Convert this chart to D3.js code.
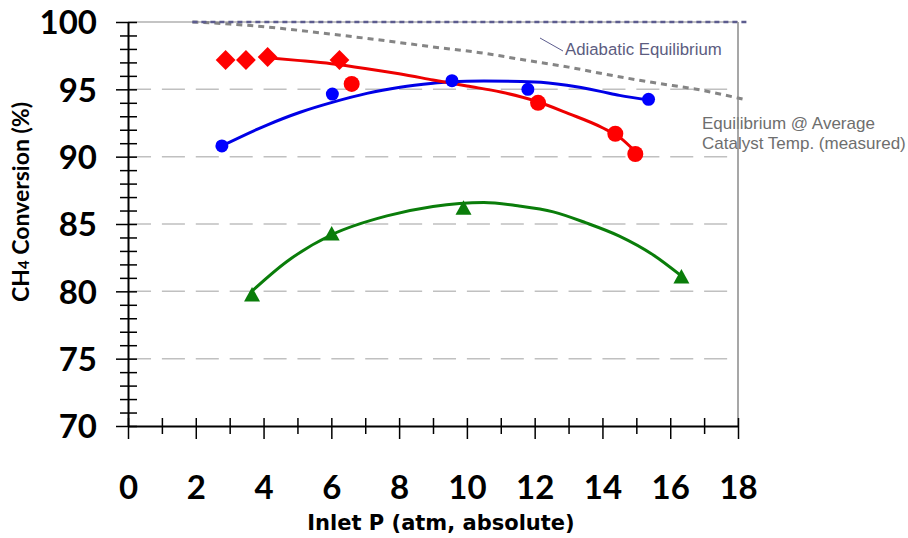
<!DOCTYPE html>
<meta charset="utf-8">
<style>
  body { margin: 0; background: #fff; }
</style>

<!-- Load d3.js -->
<script src="https://d3js.org/d3.v7.min.js"></script>

<!-- Create a div where the graph will take place -->
<div id="my_dataviz"></div>

<script>

// axis ticks
var xTicks = [0, 1, 2, 3, 4, 5, 6, 7, 8, 9, 10, 11, 12, 13, 14, 15, 16, 17, 18];
var yTicks = [70, 71, 72, 73, 74, 75, 76, 77, 78, 79, 80, 81, 82, 83, 84, 85,
              86, 87, 88, 89, 90, 91, 92, 93, 94, 95, 96, 97, 98, 99, 100];
var gridValues = [75, 80, 85, 90, 95];

// measured points [inlet P, conversion]
var redDiamonds = [[2.88, 97.18], [3.48, 97.18], [4.12, 97.4], [6.24, 97.18]];
var redCircles = [[6.6, 95.4], [12.1, 94.0], [14.38, 91.7], [14.97, 90.2]];
var bluePoints = [[2.77, 90.8], [6.03, 94.65], [9.56, 95.64], [11.8, 95.0], [15.36, 94.26]];
var greenPoints = [[3.66, 79.73], [6.01, 84.25], [9.9, 86.17], [16.33, 81.07]];

// trend curves
var redTrend = [[4.12, 97.35], [5, 97.15], [6, 96.9], [7, 96.55], [8, 96.15], [9, 95.7],
                [10, 95.25], [11, 94.8], [12, 94.15], [13, 93.2], [14, 92.15], [14.5, 91.45], [15, 90.3]];
var blueTrend = [[2.77, 90.8], [4.1, 92.35], [5.08, 93.3], [6.05, 94.05], [7.05, 94.7], [8.03, 95.15],
                 [9, 95.45], [9.5, 95.57], [10.5, 95.62], [12, 95.55], [12.95, 95.3], [13.94, 94.85],
                 [14.5, 94.55], [15.36, 94.2]];
var greenTrend = [[3.65, 80.0], [4.68, 82.2], [6.01, 84.2], [7.64, 85.6], [9, 86.3], [10.5, 86.6],
                  [11.5, 86.35], [12.55, 85.9], [13.5, 85.1], [14.5, 84.1], [15.5, 82.7], [16.3, 81.2]];

// equilibrium curves
var adiabaticEq = [[1.9, 100], [18.3, 100]];
var catalystEq = [[1.9, 100], [3, 99.85], [4.49, 99.53], [6, 99.1], [7.44, 98.66], [9, 98.15],
                  [10.39, 97.72], [11.77, 97.15], [13, 96.65], [13.94, 96.19], [15.5, 95.5],
                  [16.89, 94.95], [18.27, 94.2]];

// set the dimensions and margins of the graph
var margin = {top: 22, right: 170, bottom: 112, left: 128},
    width = 908 - margin.left - margin.right,
    height = 538 - margin.top - margin.bottom;

var svg = d3.select("#my_dataviz")
  .append("svg")
    .attr("width", 908)
    .attr("height", 538)
  .append("g")
    .attr("transform", "translate(" + margin.left + "," + margin.top + ")");

var x = d3.scaleLinear().domain([0, 18]).range([0, width]);
var y = d3.scaleLinear().domain([70, 100]).range([height, 0]);
var unit = x(1) - x(0);

// dashed gridlines
svg.selectAll(".grid")
  .data(gridValues)
  .enter()
  .append("line")
    .attr("x1", x(0))
    .attr("x2", x(18))
    .attr("y1", function(d) { return y(d); })
    .attr("y2", function(d) { return y(d); })
    .attr("stroke", "#c0c0c0")
    .attr("stroke-width", 1.5)
    .attr("stroke-dasharray", (unit * 0.68) + "," + (unit * 0.32));

// top frame
svg.append("line")
  .attr("x1", x(0)).attr("x2", x(18))
  .attr("y1", y(100)).attr("y2", y(100))
  .attr("stroke", "#8a8a8a")
  .attr("stroke-width", 1.2);

var line = d3.line()
  .x(function(d) { return x(d[0]); })
  .y(function(d) { return y(d[1]); })
  .curve(d3.curveMonotoneX);

// equilibrium lines
svg.append("path")
  .datum(catalystEq)
  .attr("d", line)
  .attr("fill", "none")
  .attr("stroke", "#858585")
  .attr("stroke-width", 3)
  .attr("stroke-dasharray", "6,5");

svg.append("path")
  .datum(adiabaticEq)
  .attr("d", line)
  .attr("fill", "none")
  .attr("stroke", "#5c5c8e")
  .attr("stroke-width", 2.5)
  .attr("stroke-dasharray", "5,4");

// trend curves
var trends = [[blueTrend, "#0000e6"], [redTrend, "#ee0000"], [greenTrend, "#0a7d0a"]];
trends.forEach(function(t) {
  svg.append("path")
    .datum(t[0])
    .attr("d", line)
    .attr("fill", "none")
    .attr("stroke", t[1])
    .attr("stroke-width", 3);
});

// markers
svg.selectAll(".diamond")
  .data(redDiamonds)
  .enter()
  .append("rect")
    .attr("x", -7).attr("y", -7)
    .attr("width", 14).attr("height", 14)
    .attr("transform", function(d) { return "translate(" + x(d[0]) + "," + y(d[1]) + ") rotate(45)"; })
    .attr("fill", "#ff0000");

svg.selectAll(".rcircle")
  .data(redCircles)
  .enter()
  .append("circle")
    .attr("cx", function(d) { return x(d[0]); })
    .attr("cy", function(d) { return y(d[1]); })
    .attr("r", 8)
    .attr("fill", "#ff0000");

svg.selectAll(".bcircle")
  .data(bluePoints)
  .enter()
  .append("circle")
    .attr("cx", function(d) { return x(d[0]); })
    .attr("cy", function(d) { return y(d[1]); })
    .attr("r", 6.5)
    .attr("fill", "#0000ff");

svg.selectAll(".triangle")
  .data(greenPoints)
  .enter()
  .append("path")
    .attr("d", "M0,-8L8,6.5L-8,6.5Z")
    .attr("transform", function(d) { return "translate(" + x(d[0]) + "," + y(d[1]) + ")"; })
    .attr("fill", "#0a7d0a");

// curve labels
svg.append("line")
  .attr("x1", 540 - margin.left).attr("y1", 38 - margin.top)
  .attr("x2", 563 - margin.left).attr("y2", 51 - margin.top)
  .attr("stroke", "#5c5c8e")
  .attr("stroke-width", 1);

svg.append("text")
  .attr("x", 565 - margin.left)
  .attr("y", 55 - margin.top)
  .attr("font-family", "Liberation Sans, Arial, sans-serif")
  .attr("font-size", 16.8)
  .attr("fill", "#5c5c80")
  .text("Adiabatic Equilibrium");

var eqLabel = svg.append("text")
  .attr("font-family", "Liberation Sans, Arial, sans-serif")
  .attr("font-size", 17)
  .attr("fill", "#6e6e6e");
eqLabel.append("tspan").attr("x", 702 - margin.left).attr("y", 129 - margin.top).text("Equilibrium @ Average");
eqLabel.append("tspan").attr("x", 702 - margin.left).attr("y", 149 - margin.top).text("Catalyst Temp. (measured)");

// right frame
svg.append("line")
  .attr("x1", x(18)).attr("x2", x(18))
  .attr("y1", y(100)).attr("y2", y(70))
  .attr("stroke", "#8a8a8a")
  .attr("stroke-width", 1.5);

// X axis
var xAxis = svg.append("g")
  .attr("transform", "translate(0," + height + ")")
  .call(d3.axisBottom(x)
    .tickValues(xTicks)
    .tickFormat(function(d) { return d % 2 ? "" : d; })
    .tickSizeOuter(0));
xAxis.select(".domain").attr("stroke", "#000").attr("stroke-width", 2);
xAxis.selectAll(".tick line")
  .attr("y1", -8)
  .attr("y2", function(d) { return d % 2 ? 8 : 13; })
  .attr("stroke-width", 1.5);
xAxis.selectAll(".tick text")
  .attr("y", 73)
  .attr("dy", null)
  .attr("font-family", "Lato, sans-serif")
  .attr("font-weight", 700)
  .attr("font-size", 33)
  .attr("fill", "#000");

// Y axis
var yAxis = svg.append("g")
  .call(d3.axisLeft(y)
    .tickValues(yTicks)
    .tickFormat(function(d) { return d % 5 ? "" : d; })
    .tickSizeOuter(0));
yAxis.select(".domain").attr("stroke", "#000").attr("stroke-width", 2);
yAxis.selectAll(".tick line")
  .attr("x1", function(d) { return d % 5 ? -8 : -12; })
  .attr("x2", 9)
  .attr("stroke-width", 1.5);
yAxis.selectAll(".tick text")
  .attr("x", -31)
  .attr("dy", "0.36em")
  .attr("font-family", "Lato, sans-serif")
  .attr("font-weight", 700)
  .attr("font-size", 33)
  .attr("fill", "#000");

// axis titles
svg.append("text")
  .attr("x", 441 - margin.left)
  .attr("y", 530 - margin.top)
  .attr("text-anchor", "middle")
  .attr("font-family", "DejaVu Sans, sans-serif")
  .attr("font-weight", 700)
  .attr("font-size", 21)
  .text("Inlet P (atm, absolute)");

var yTitle = svg.append("text")
  .attr("transform", "translate(" + (29 - margin.left) + "," + (202 - margin.top) + ") rotate(-90)")
  .attr("text-anchor", "middle")
  .attr("font-family", "Lato, sans-serif")
  .attr("font-weight", 700)
  .attr("font-size", 23);
yTitle.append("tspan").text("CH");
yTitle.append("tspan").attr("font-size", 15).text("4");
yTitle.append("tspan").text(" Conversion (%)");

</script>
